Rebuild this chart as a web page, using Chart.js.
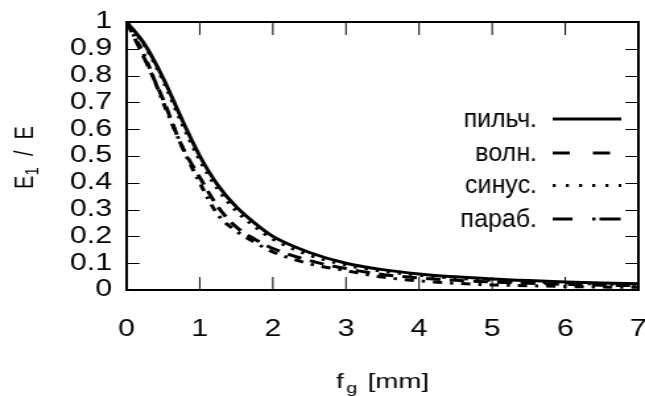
<!DOCTYPE html>
<html lang="ru">
<head>
<meta charset="utf-8">
<title>E1 / E</title>
<script src="https://cdn.jsdelivr.net/npm/chart.js@4"></script>
<style>
  html, body { margin: 0; padding: 0; background: #fff; overflow: hidden; }
</style>
</head>
<body>
<!-- o gráfico original é esticado na horizontal, então o canvas também -->
<canvas id="grafico" width="489" height="396" style="display:block;width:645px;height:396px"></canvas>
<script>
// Dados
const fg = [0, 0.25, 0.5, 0.75, 1, 1.25, 1.5, 1.75, 2, 2.5, 3, 3.5, 4, 4.5, 5, 5.5, 6, 6.5, 7];
const pilch = [1, 0.915, 0.79, 0.64, 0.50, 0.39, 0.31, 0.25, 0.20, 0.14, 0.10, 0.076, 0.06, 0.049, 0.041, 0.035, 0.030, 0.026, 0.023];
const voln  = [1, 0.86, 0.71, 0.54, 0.42, 0.31, 0.235, 0.19, 0.155, 0.11, 0.08, 0.058, 0.045, 0.036, 0.03, 0.025, 0.021, 0.018, 0.016];
const sinus = [1, 0.91, 0.78, 0.625, 0.485, 0.375, 0.295, 0.237, 0.19, 0.13, 0.093, 0.07, 0.055, 0.044, 0.036, 0.03, 0.026, 0.022, 0.019];
const parab = [1, 0.87, 0.70, 0.54, 0.40, 0.28, 0.22, 0.178, 0.142, 0.098, 0.072, 0.048, 0.034, 0.025, 0.019, 0.016, 0.013, 0.011, 0.01];
const nomes = ['пильч.', 'волн.', 'синус.', 'параб.'];

const STRETCH = 645 / 489;
const FONTE = 'Arial, "Liberation Sans", sans-serif';

// tracejado da amostra na legenda (no original é diferente do da curva)
const tracoLegenda = [[], [13, 17.5], [2.3, 7.7], [15, 15, 2.5, 3, 16]];

const pontos = serie => fg.map((x, i) => ({ x, y: serie[i] }));

function linha(label, serie, dash) {
    return {
        label,
        data: pontos(serie),
        borderColor: '#000',
        borderWidth: 3,
        borderDash: dash,
        pointRadius: 0,
        cubicInterpolationMode: 'monotone',
        fill: false
    };
}

// Moldura com ticks para dentro, legenda e títulos dos eixos
const moldura = {
    id: 'moldura',
    afterDatasetsDraw(chart) {
        const { ctx, chartArea: { left, right, top, bottom }, scales: { x, y } } = chart;
        ctx.save();
        ctx.strokeStyle = '#000';
        ctx.fillStyle = '#000';

        ctx.lineWidth = 1;
        ctx.beginPath();
        x.ticks.forEach(t => {
            const px = x.getPixelForValue(t.value);
            ctx.moveTo(px, bottom); ctx.lineTo(px, bottom - 13);
            ctx.moveTo(px, top); ctx.lineTo(px, top + 13);
        });
        const tl = 13 / STRETCH;
        y.ticks.forEach(t => {
            const py = Math.round(y.getPixelForValue(t.value)) + 0.5;
            ctx.moveTo(left, py); ctx.lineTo(left + tl, py);
            ctx.moveTo(right, py); ctx.lineTo(right - tl, py);
        });
        ctx.stroke();

        ctx.lineWidth = 2;
        ctx.strokeRect(left, top, right - left, bottom - top);

        // legenda (texto sem o esticamento)
        const linhasY = [119, 153, 185.5, 219];
        ctx.textAlign = 'right';
        ctx.textBaseline = 'middle';
        chart.data.datasets.forEach((ds, i) => {
            const ly = linhasY[i];
            ctx.save();
            ctx.scale(1 / STRETCH, 1);
            ctx.font = '25px ' + FONTE;
            ctx.fillText(ds.label, 537, ly + 1);
            ctx.restore();
            ctx.save();
            ctx.lineWidth = ds.borderWidth;
            ctx.setLineDash(tracoLegenda[i]);
            ctx.beginPath();
            ctx.moveTo(419, ly);
            ctx.lineTo(471, ly);
            ctx.stroke();
            ctx.restore();
        });

        // título do eixo x: f_g [mm]
        ctx.textAlign = 'left';
        ctx.textBaseline = 'alphabetic';
        ctx.font = '21px ' + FONTE;
        const w1 = ctx.measureText('f').width;
        ctx.font = '15px ' + FONTE;
        const w2 = ctx.measureText('g').width;
        ctx.font = '21px ' + FONTE;
        const w3 = ctx.measureText(' [mm]').width;
        let tx = 290 - (w1 + w2 + w3 + 4) / 2;
        ctx.fillText('f', tx, 388);
        tx += w1 + 2;
        ctx.font = '15px ' + FONTE;
        ctx.fillText('g', tx, 393);
        tx += w2 + 2;
        ctx.font = '21px ' + FONTE;
        ctx.fillText(' [mm]', tx, 388);

        // título do eixo y: E1 / E
        ctx.translate(25, 157.5);
        ctx.rotate(-Math.PI / 2);
        ctx.font = '20px ' + FONTE;
        const a1 = ctx.measureText('E').width;
        ctx.font = '15px ' + FONTE;
        const a2 = ctx.measureText('1').width;
        ctx.font = '20px ' + FONTE;
        const a3 = ctx.measureText('  /  E').width;
        let ty = -(a1 + a2 + a3) / 2;
        ctx.fillText('E', ty, 0);
        ty += a1;
        ctx.font = '15px ' + FONTE;
        ctx.fillText('1', ty, 4);
        ty += a2;
        ctx.font = '20px ' + FONTE;
        ctx.fillText('  /  E', ty, 0);

        ctx.restore();
    }
};

new Chart(document.getElementById('grafico'), {
    type: 'line',
    data: {
        datasets: [
            linha(nomes[0], pilch, []),
            linha(nomes[1], voln, [11, 7]),
            linha(nomes[2], sinus, [2.5, 6]),
            linha(nomes[3], parab, [7, 6, 2.5, 6])
        ]
    },
    options: {
        responsive: false,
        devicePixelRatio: 1,
        animation: false,
        layout: { padding: { top: 22, right: 5, left: 0, bottom: 0 } },
        plugins: { legend: { display: false }, tooltip: { enabled: false } },
        scales: {
            x: {
                type: 'linear',
                min: 0,
                max: 7,
                grid: { display: false, drawTicks: false },
                border: { display: false },
                ticks: { stepSize: 1, padding: 26, color: '#000', font: { family: FONTE, size: 23 } },
                afterFit: scale => {
                    scale.height = 106;
                    scale.paddingLeft = 0;
                    scale.paddingRight = 0;
                }
            },
            y: {
                min: 0,
                max: 1,
                grid: { display: false, drawTicks: false },
                border: { display: false },
                ticks: {
                    stepSize: 0.1,
                    autoSkip: false,
                    padding: 11,
                    color: '#000',
                    font: { family: FONTE, size: 23 },
                    callback: v => String(Math.round(v * 10) / 10)
                },
                afterFit: scale => {
                    scale.width = 96;
                    scale.paddingTop = 0;
                    scale.paddingBottom = 0;
                }
            }
        }
    },
    plugins: [moldura]
});
</script>
</body>
</html>
